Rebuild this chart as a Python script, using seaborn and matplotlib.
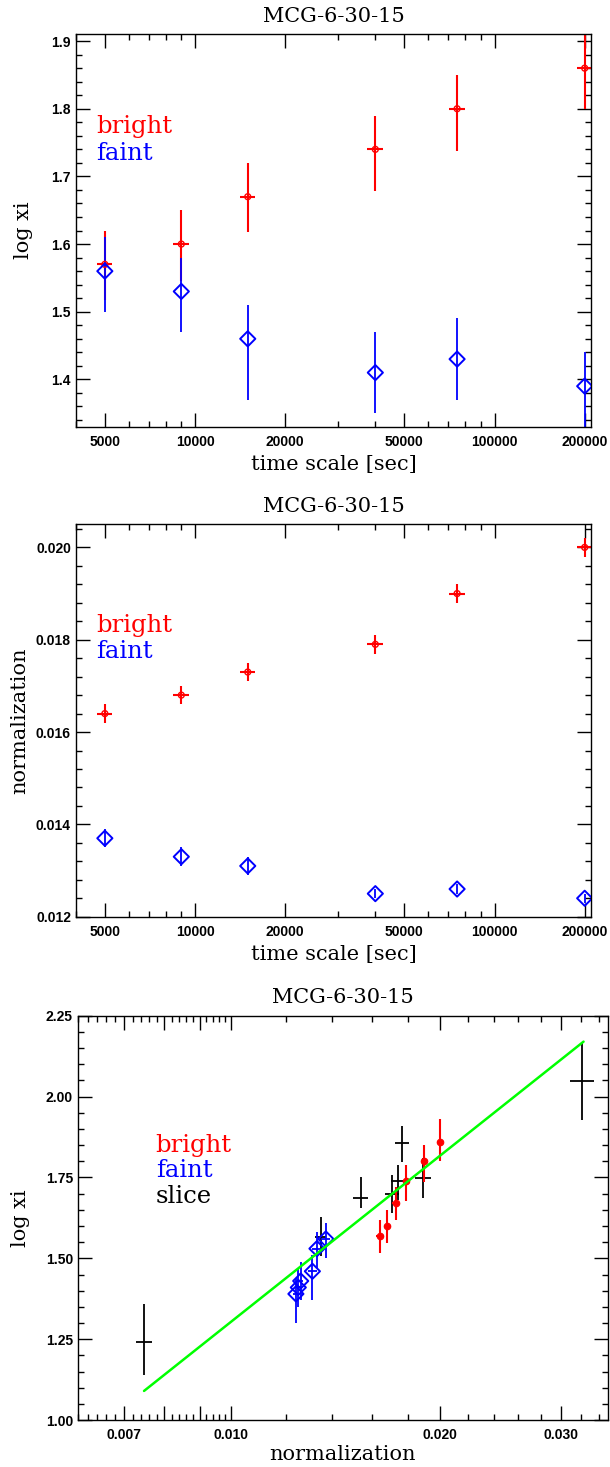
import numpy as np
import pandas as pd
import matplotlib
matplotlib.use("Agg")
import matplotlib.pyplot as plt
import matplotlib.ticker as mticker
import seaborn as sns

# --- data ---
time_scale = [5000, 9000, 15000, 40000, 75000, 200000]
time_err_frac = 0.06

bright_logxi = [1.57, 1.60, 1.67, 1.74, 1.80, 1.86]
bright_logxi_lo = [0.053, 0.054, 0.052, 0.062, 0.063, 0.06]
bright_logxi_hi = [0.05, 0.05, 0.05, 0.05, 0.05, 0.07]

faint_logxi = [1.56, 1.53, 1.46, 1.41, 1.43, 1.39]
faint_logxi_lo = [0.06, 0.06, 0.09, 0.06, 0.06, 0.09]
faint_logxi_hi = [0.05, 0.05, 0.05, 0.06, 0.06, 0.05]

bright_norm = [0.0164, 0.0168, 0.0173, 0.0179, 0.0190, 0.0200]
bright_norm_err = [0.0002, 0.0002, 0.0002, 0.0002, 0.0002, 0.0002]
faint_norm = [0.0137, 0.0133, 0.0131, 0.0125, 0.0126, 0.0124]
faint_norm_err = [0.0002, 0.0002, 0.0002, 0.0001, 0.0001, 0.0001]

slice_norm = [0.00748, 0.01346, 0.01538, 0.01767, 0.0174, 0.0171, 0.01891, 0.03214]
slice_norm_err = [0.0002, 0.00026, 0.0004, 0.0004, 0.0004, 0.0004, 0.0005, 0.00125]
slice_logxi = [1.24, 1.567, 1.687, 1.858, 1.740, 1.699, 1.749, 2.049]
slice_logxi_lo = [0.10, 0.06, 0.03, 0.06, 0.06, 0.06, 0.062, 0.122]
slice_logxi_hi = [0.12, 0.06, 0.063, 0.05, 0.05, 0.058, 0.06, 0.121]

fit_norm = [0.00748, 0.0323]
fit_logxi = [1.09, 2.17]

title = "MCG-6-30-15"
RED, BLUE, GREEN = "#ff0000", "#0000ff", "#00ff00"

bright = pd.DataFrame({"t": time_scale, "logxi": bright_logxi, "norm": bright_norm})
faint = pd.DataFrame({"t": time_scale, "logxi": faint_logxi, "norm": faint_norm})
slices = pd.DataFrame({"norm": slice_norm, "logxi": slice_logxi})

sns.set_style("ticks")
plt.rcParams["font.family"] = ["Liberation Sans", "DejaVu Sans"]
plt.rcParams["font.weight"] = "bold"
plt.rcParams["axes.linewidth"] = 1.0
plt.rcParams["text.color"] = "black"
plt.rcParams["axes.labelcolor"] = "black"
plt.rcParams["axes.titlecolor"] = "black"

SERIF = dict(family="DejaVu Serif", weight="normal", color="black")

fig = plt.figure(figsize=(6.1, 14.67), dpi=100)
ax1 = fig.add_axes([0.1243, 0.7091, 0.8446, 0.2675])
ax2 = fig.add_axes([0.1243, 0.3751, 0.8446, 0.2675])
ax3 = fig.add_axes([0.1275, 0.0320, 0.8687, 0.2756])


def style_axes(ax):
    ax.tick_params(which="both", direction="in", top=True, right=True,
                   width=1.0, colors="black", labelsize=10)
    ax.tick_params(which="major", length=10)
    ax.tick_params(which="minor", length=4)
    ax.tick_params(axis="y", pad=3.5)
    ax.tick_params(axis="x", pad=6)
    for s in ax.spines.values():
        s.set_color("black")


def time_axis(ax):
    ax.set_xscale("log")
    ax.set_xlim(4000, 210000)
    ax.xaxis.set_major_locator(mticker.FixedLocator([5000, 10000, 20000, 50000, 100000, 200000]))
    ax.xaxis.set_major_formatter(mticker.FuncFormatter(lambda v, p: f"{int(round(v))}"))
    ax.xaxis.set_minor_locator(mticker.FixedLocator(
        [4000, 6000, 7000, 8000, 9000, 30000, 40000, 60000, 70000, 80000, 90000]))
    ax.xaxis.set_minor_formatter(mticker.NullFormatter())
    ax.set_xlabel("time scale [sec]", fontsize=15, labelpad=4, **SERIF)


def labels(ax, items, x, ys):
    for (txt, col), y in zip(items, ys):
        ax.text(x, y, txt, color=col, fontsize=17.5, transform=ax.transAxes,
                va="baseline", ha="left", family="DejaVu Serif", weight="normal")


# --- panel 1: log xi vs time scale ---
ax = ax1
ax.errorbar(time_scale, bright_logxi, yerr=[bright_logxi_lo, bright_logxi_hi],
            xerr=[t * time_err_frac for t in time_scale], fmt="none",
            ecolor=RED, elinewidth=1.5, capsize=0, zorder=2)
ax.errorbar(time_scale, faint_logxi, yerr=[faint_logxi_lo, faint_logxi_hi],
            fmt="none", ecolor=BLUE, elinewidth=1.3, capsize=0, zorder=2)
sns.scatterplot(data=bright, x="t", y="logxi", marker="o", s=18, facecolor="none",
                edgecolor=RED, linewidth=1.0, ax=ax, zorder=3)
sns.scatterplot(data=faint, x="t", y="logxi", marker="D", s=60, facecolor="none",
                edgecolor=BLUE, linewidth=1.4, ax=ax, zorder=3)
time_axis(ax)
ax.set_ylim(1.33, 1.91)
ax.yaxis.set_major_locator(mticker.MultipleLocator(0.1))
ax.yaxis.set_minor_locator(mticker.MultipleLocator(0.02))
ax.yaxis.set_major_formatter(mticker.FormatStrFormatter("%.1f"))
ax.set_ylabel("log xi", fontsize=15, labelpad=13, **SERIF)
ax.set_title(title, fontsize=15, pad=9, **SERIF)
labels(ax, [("bright", RED), ("faint", BLUE)], 0.040, [0.749, 0.680])
style_axes(ax)

# --- panel 2: normalization vs time scale ---
ax = ax2
ax.errorbar(time_scale, bright_norm, yerr=bright_norm_err,
            xerr=[t * time_err_frac for t in time_scale], fmt="none",
            ecolor=RED, elinewidth=1.5, capsize=0, zorder=2)
ax.errorbar(time_scale, faint_norm, yerr=faint_norm_err,
            fmt="none", ecolor=BLUE, elinewidth=1.3, capsize=0, zorder=2)
sns.scatterplot(data=bright, x="t", y="norm", marker="o", s=18, facecolor="none",
                edgecolor=RED, linewidth=1.0, ax=ax, zorder=3)
sns.scatterplot(data=faint, x="t", y="norm", marker="D", s=60, facecolor="none",
                edgecolor=BLUE, linewidth=1.4, ax=ax, zorder=3)
time_axis(ax)
ax.set_ylim(0.012, 0.0205)
ax.yaxis.set_major_locator(mticker.MultipleLocator(0.002))
ax.yaxis.set_minor_locator(mticker.MultipleLocator(0.0004))
ax.yaxis.set_major_formatter(mticker.FormatStrFormatter("%.3f"))
ax.set_ylabel("normalization", fontsize=15, labelpad=4.5, **SERIF)
ax.set_title(title, fontsize=15, pad=9, **SERIF)
labels(ax, [("bright", RED), ("faint", BLUE)], 0.040, [0.726, 0.659])
style_axes(ax)

# --- panel 3: log xi vs normalization ---
ax = ax3
ax.errorbar(slice_norm, slice_logxi, yerr=[slice_logxi_lo, slice_logxi_hi],
            xerr=slice_norm_err, fmt="none", ecolor="black", elinewidth=1.3,
            capsize=0, zorder=2)
ax.errorbar(faint_norm, faint_logxi, yerr=[faint_logxi_lo, faint_logxi_hi],
            xerr=faint_norm_err, fmt="none", ecolor=BLUE, elinewidth=1.3,
            capsize=0, zorder=2)
ax.errorbar(bright_norm, bright_logxi, yerr=[bright_logxi_lo, bright_logxi_hi],
            xerr=bright_norm_err, fmt="none", ecolor=RED, elinewidth=1.5,
            capsize=0, zorder=2)
sns.scatterplot(data=faint, x="norm", y="logxi", marker="D", s=60, facecolor="none",
                edgecolor=BLUE, linewidth=1.4, ax=ax, zorder=3)
sns.scatterplot(data=bright, x="norm", y="logxi", marker="o", s=22, color=RED,
                edgecolor=RED, linewidth=0.8, ax=ax, zorder=3)
sns.lineplot(x=fit_norm, y=fit_logxi, color=GREEN, linewidth=1.8, ax=ax, zorder=4)
ax.set_xscale("log")
ax.set_xlim(0.006, 0.035)
ax.xaxis.set_major_locator(mticker.FixedLocator([0.007, 0.008, 0.009, 0.010, 0.020, 0.030]))
shown = {0.007: "0.007", 0.01: "0.010", 0.02: "0.020", 0.03: "0.030"}
ax.xaxis.set_major_formatter(mticker.FuncFormatter(
    lambda v, p: next((s for k, s in shown.items() if abs(v - k) < 1e-6), "")))
minor_x = [round(0.006 + 0.0002 * i, 4) for i in range(20)]
minor_x = [m for m in minor_x if m not in (0.007, 0.008, 0.009)]
minor_x += [0.012, 0.014, 0.016, 0.018, 0.022, 0.024, 0.026, 0.028, 0.032, 0.034]
ax.xaxis.set_minor_locator(mticker.FixedLocator(minor_x))
ax.xaxis.set_minor_formatter(mticker.NullFormatter())
ax.set_ylim(1.0, 2.25)
ax.yaxis.set_major_locator(mticker.MultipleLocator(0.25))
ax.yaxis.set_minor_locator(mticker.MultipleLocator(0.05))
ax.yaxis.set_major_formatter(mticker.FormatStrFormatter("%.2f"))
ax.set_xlabel("normalization", fontsize=15, labelpad=2, **SERIF)
ax.set_ylabel("log xi", fontsize=15, labelpad=11.5, **SERIF)
ax.set_title(title, fontsize=15, pad=9, **SERIF)
labels(ax, [("bright", RED), ("faint", BLUE), ("slice", "black")], 0.147, [0.664, 0.600, 0.536])
style_axes(ax)

fig.savefig("out.png", dpi=100)
